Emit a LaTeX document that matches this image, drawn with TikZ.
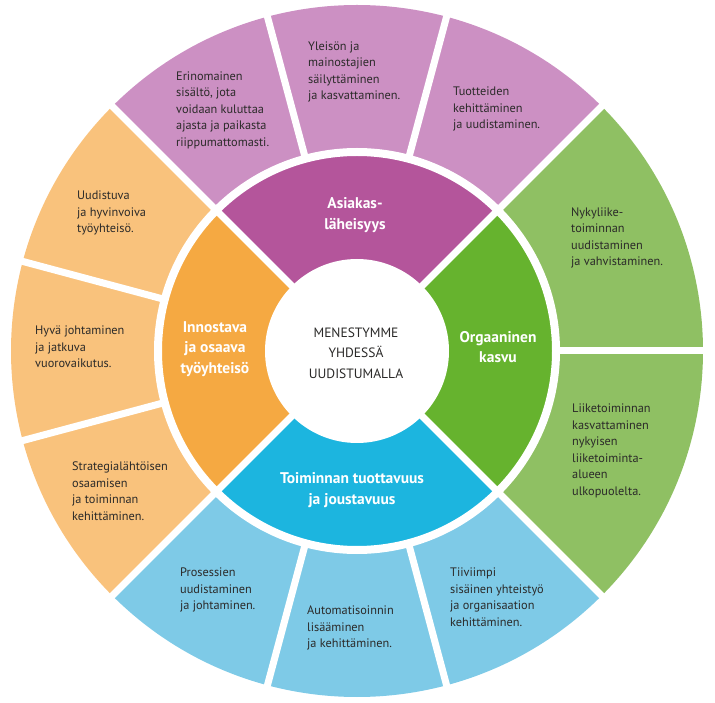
\documentclass[tikz,border=0pt]{standalone}
\usepackage{fontspec}
\setmainfont{PT Sans}
\definecolor{purpleD}{HTML}{B4559B}
\definecolor{purpleL}{HTML}{CC90C3}
\definecolor{orangeD}{HTML}{F5A942}
\definecolor{orangeL}{HTML}{F9C27C}
\definecolor{greenD}{HTML}{66B32E}
\definecolor{greenL}{HTML}{8FC063}
\definecolor{blueD}{HTML}{1CB5DF}
\definecolor{blueL}{HTML}{7ECAE7}
\definecolor{txt}{HTML}{2B2A29}
\tikzset{
  outertext/.style={anchor=west,align=left,inner sep=0pt,text=txt,font=\fontsize{12.3}{16.5}\selectfont},
  innertitle/.style={align=center,inner sep=0pt,text=white,font=\bfseries\fontsize{15.5}{20.5}\selectfont},
  centertext/.style={align=center,inner sep=0pt,text=txt,font=\fontsize{13.5}{20.5}\selectfont},
  sep/.style={white,line width=7pt}
}
\begin{document}
\begin{tikzpicture}[x=1pt,y=1pt]
\useasboundingbox (0,0) rectangle (715,702);
\coordinate (c) at (357,351);
% outer ring sectors
\foreach \a/\b/\col in {45/135/purpleL,135/225/orangeL,225/315/blueL,-45/45/greenL}{
  \fill[\col] ([shift={(\a:199)}]c) arc[start angle=\a,end angle=\b,radius=199]
     -- ([shift={(\b:346)}]c) arc[start angle=\b,end angle=\a,radius=346] -- cycle;
}
% inner ring sectors
\foreach \a/\b/\col in {45/135/purpleD,135/225/orangeD,225/315/blueD,-45/45/greenD}{
  \fill[\col] (c) -- ([shift={(\a:199)}]c) arc[start angle=\a,end angle=\b,radius=199] -- cycle;
}
% separators
\draw[white,line width=8pt] (c) circle[radius=199];
\fill[white] (c) circle[radius=92];
\foreach \a in {45,135,225,315}{
  \draw[sep] (c) -- ([shift={(\a:360)}]c);
}
\foreach \a in {75,105,165,195,255,285,0}{
  \draw[sep] ([shift={(\a:199)}]c) -- ([shift={(\a:360)}]c);
}
% outer texts
\node[outertext] (t1) at (176,592) {Erinomainen\\sisältö, jota\\voidaan kuluttaa\\ajasta ja paikasta\\riippumattomasti.};
\node[outertext] (t2) at (308,630) {Yleisön ja\\mainostajien\\säilyttäminen\\ja kasvattaminen.};
\node[outertext] (t3) at (453,593) {Tuotteiden\\kehittäminen\\ja uudistaminen.};
\node[outertext] (t4) at (77,489) {Uudistuva\\ja hyvinvoiva\\työyhteisö.};
\node[outertext] (t5) at (35,355) {Hyvä johtaminen\\ja jatkuva\\vuorovaikutus.};
\node[outertext] (t6) at (72,211) {Strategialähtöisen\\osaamisen\\ja toiminnan\\kehittäminen.};
\node[outertext] (t7) at (571,464) {Nykyliike-\\toiminnan\\uudistaminen\\ja vahvistaminen.};
\node[outertext] (t8) at (572,251) {Liiketoiminnan\\kasvattaminen\\nykyisen\\liiketoiminta-\\alueen\\ulkopuolelta.};
\node[outertext] (t9) at (180,112) {Prosessien\\uudistaminen\\ja johtaminen.};
\node[outertext] (t10) at (307,74) {Automatisoinnin\\lisääminen\\ja kehittäminen.};
\node[outertext] (t11) at (450,105) {Tiiviimpi\\sisäinen yhteistyö\\ja organisaation\\kehittäminen.};
% inner titles
\node[innertitle] (i1) at (355,487) {Asiakas-\\läheisyys};
\node[innertitle] (i2) at (215,353) {Innostava\\ja osaava\\työyhteisö};
\node[innertitle] (i3) at (498,355) {Orgaaninen\\kasvu};
\node[innertitle] (i4) at (352,212) {Toiminnan tuottavuus\\ja joustavuus};
\node[centertext] (m) at (356,349) {MENESTYMME\\YHDESSÄ\\UUDISTUMALLA};
\end{tikzpicture}
\end{document}
